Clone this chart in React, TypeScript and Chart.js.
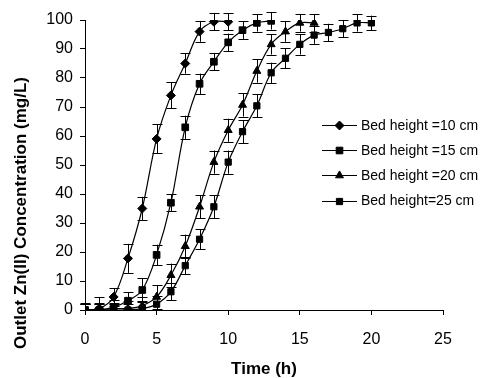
import React, { useEffect, useRef } from "react";
import { Chart, registerables } from "chart.js";
import { drawPoint } from "chart.js/helpers";

Chart.register(...registerables);

// ---- Data ----
const legendLabels = ["Bed height =10 cm", "Bed height =15 cm", "Bed height =20 cm", "Bed height=25 cm"];

const time10 = [0, 1, 2, 3, 4, 5, 6, 7, 8, 9, 10];
const conc10 = [0, 0.5, 4.5, 17.8, 35, 59, 74, 85, 96, 99.4, 99.4];
const err10 = [2.5, 4, 3, 5, 4, 5, 4.5, 3.5, 3.5, 3, 3];

const time15 = [0, 1, 2, 3, 4, 5, 6, 7, 8, 9, 10, 11, 12, 13];
const conc15 = [0, 0, 1, 3.2, 6.9, 19, 37, 63, 78, 85.6, 92.3, 96.5, 99, 99.7];
const err15 = [2, 2.5, 2.5, 3, 4, 3.5, 3, 4, 3.5, 3, 3, 3, 3, 3];

const time20 = [0, 1, 2, 3, 4, 5, 6, 7, 8, 9, 10, 11, 12, 13, 14, 15, 16];
const conc20 = [0, 0, 0.5, 0.5, 1.5, 4.5, 12, 22, 35.6, 51, 62, 70.7, 82.4, 91.6, 96, 99, 99];
const err20 = [2, 2, 2, 2.5, 3, 4, 4, 4, 4, 4, 4, 4, 4, 3.5, 3.5, 3, 3];

const time25 = [0, 1, 2, 3, 4, 5, 6, 7, 8, 9, 10, 11, 12, 13, 14, 15, 16, 17, 18, 19, 20];
const conc25 = [0, 0, 0, 0, 0.5, 2, 6.3, 15.3, 24.4, 35.6, 51, 61.5, 70.4, 81.8, 86.8, 91.6, 94.8, 95.7, 97, 99, 99];
const err25 = [2, 2, 2, 2, 2.5, 3, 3, 3, 3.5, 4, 4, 4, 4, 3.5, 3.5, 3.5, 3, 3, 3, 3, 2.5];

const xTitle = "Time (h)";
const yTitle = "Outlet Zn(II) Concentration (mg/L)";

const FONT = '"Liberation Sans", Arial, sans-serif';

const makePoints = (xs: number[], ys: number[]) => xs.map((x, i) => ({ x, y: ys[i] }));

const seriesErrors = [err10, err15, err20, err25];

const errorBarPlugin = {
  id: "errorBars",
  beforeDatasetsDraw(chart: any) {
    const ctx = chart.ctx;
    const xs = chart.scales.x;
    const ys = chart.scales.y;
    const area = chart.chartArea;
    ctx.save();
    ctx.beginPath();
    ctx.rect(area.left - 10, area.top - 10, area.right - area.left + 20, area.bottom - area.top + 10);
    ctx.clip();
    ctx.strokeStyle = "#000";
    ctx.lineWidth = 1;
    chart.data.datasets.forEach((ds: any, di: number) => {
      const errs = seriesErrors[di];
      ds.data.forEach((p: any, i: number) => {
        const e = errs[i];
        const x = Math.round(xs.getPixelForValue(p.x)) + 0.5;
        const yTop = ys.getPixelForValue(p.y + e);
        const yBot = ys.getPixelForValue(p.y - e);
        ctx.beginPath();
        ctx.moveTo(x, yTop);
        ctx.lineTo(x, yBot);
        ctx.moveTo(x - 5, Math.round(yTop) + 0.5);
        ctx.lineTo(x + 5, Math.round(yTop) + 0.5);
        ctx.moveTo(x - 5, Math.round(yBot) + 0.5);
        ctx.lineTo(x + 5, Math.round(yBot) + 0.5);
        ctx.stroke();
      });
    });
    ctx.restore();
  },
};

const legendPlugin = {
  id: "lineLegend",
  afterDraw(chart: any) {
    const ctx = chart.ctx;
    ctx.save();
    chart.data.datasets.forEach((ds: any, i: number) => {
      const y = 125 + i * 25.2;
      ctx.strokeStyle = "#000";
      ctx.fillStyle = "#000";
      ctx.lineWidth = 1;
      ctx.beginPath();
      ctx.moveTo(322, Math.round(y) + 0.5);
      ctx.lineTo(357, Math.round(y) + 0.5);
      ctx.stroke();
      drawPoint(ctx, { pointStyle: ds.pointStyle, radius: ds.pointRadius, rotation: 0, borderWidth: 1 } as any, 339.5, Math.round(y) + 0.5);
      ctx.font = `14px ${FONT}`;
      ctx.textAlign = "left";
      ctx.textBaseline = "middle";
      ctx.fillText(ds.label, 361, y + 1);
    });
    ctx.restore();
  },
};

const titlePlugin = {
  id: "axisTitles",
  afterDraw(chart: any) {
    const ctx = chart.ctx;
    ctx.save();
    ctx.fillStyle = "#000";
    ctx.font = `bold 17px ${FONT}`;
    ctx.textAlign = "center";
    ctx.textBaseline = "middle";
    ctx.fillText(xTitle, 264, 369);
    ctx.translate(21, 213);
    ctx.rotate(-Math.PI / 2);
    ctx.fillText(yTitle, 0, 0);
    ctx.restore();
  },
};

export default function App() {
  const ref = useRef<HTMLCanvasElement | null>(null);

  useEffect(() => {
    if (!ref.current) return;
    const common = {
      borderColor: "#000",
      backgroundColor: "#000",
      pointBackgroundColor: "#000",
      pointBorderColor: "#000",
      borderWidth: 1.2,
      pointBorderWidth: 1,
      tension: 0.35,
      fill: false,
    };
    const chart = new Chart(ref.current, {
      type: "line",
      data: {
        datasets: [
          { ...common, label: legendLabels[0], data: makePoints(time10, conc10), pointStyle: "rectRot", pointRadius: 4.5 },
          { ...common, label: legendLabels[1], data: makePoints(time15, conc15), pointStyle: "rect", pointRadius: 4.7 },
          { ...common, label: legendLabels[2], data: makePoints(time20, conc20), pointStyle: "triangle", pointRadius: 4.6 },
          { ...common, label: legendLabels[3], data: makePoints(time25, conc25), pointStyle: "rect", pointRadius: 4.4 },
        ],
      },
      options: {
        responsive: false,
        animation: false,
        devicePixelRatio: 1,
        layout: { padding: { left: 0, top: 20, right: 38, bottom: 0 } },
        plugins: {
          legend: { display: false },
          tooltip: { enabled: false },
        },
        scales: {
          x: {
            type: "linear",
            min: 0,
            max: 25,
            ticks: { stepSize: 5, color: "#000", padding: 15, font: { family: FONT, size: 16 } },
            grid: { drawOnChartArea: false, drawTicks: true, tickLength: 5, color: "#000" },
            border: { color: "#000", width: 1 },
            afterFit: (s: any) => { s.height = 68; },
          },
          y: {
            min: 0,
            max: 100,
            ticks: { stepSize: 10, color: "#000", padding: 7, font: { family: FONT, size: 16 } },
            grid: { drawOnChartArea: false, drawTicks: true, tickLength: 5, color: "#000" },
            border: { color: "#000", width: 1 },
            afterFit: (s: any) => { s.width = 85; },
          },
        },
      },
      plugins: [errorBarPlugin, legendPlugin, titlePlugin],
    } as any);
    return () => chart.destroy();
  }, []);

  return (
    <div style={{ position: "fixed", left: 0, top: 0, width: 481, height: 378, background: "#fff" }}>
      <canvas ref={ref} width={481} height={378} style={{ width: 481, height: 378, display: "block" }} />
    </div>
  );
}
